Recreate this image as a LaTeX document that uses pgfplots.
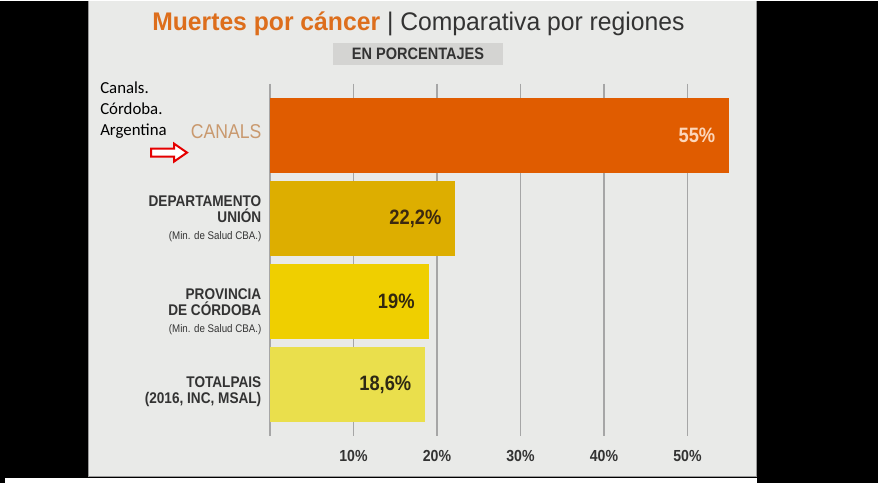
\documentclass[border=0pt]{standalone}
\usepackage{pgfplots}
\pgfplotsset{compat=1.18}
\usepackage{fontspec}
\setmainfont{Liberation Sans}[FakeStretch=0.88]
\newfontfamily\titlefont{Liberation Sans}[FakeStretch=0.97]
\newfontfamily\carlito{Carlito}
\definecolor{panel}{HTML}{E9EAE8}
\definecolor{borde}{HTML}{9A9A9A}
\definecolor{tituloor}{HTML}{DD6E1C}
\definecolor{oscuro}{HTML}{333333}
\definecolor{cA}{HTML}{E05C00}
\definecolor{cB}{HTML}{DDAE00}
\definecolor{cC}{HTML}{EFCF00}
\definecolor{cD}{HTML}{EADF4C}
\definecolor{canalstxt}{HTML}{C9996E}
\definecolor{grilla}{HTML}{A6A6A6}
\definecolor{cajagris}{HTML}{D4D4D2}
\begin{document}
\begin{tikzpicture}[x=0.75pt,y=-0.75pt]
% frame
\fill[black] (0,0) rectangle (882,482);
\fill[white] (878,0) rectangle (882,482);
\fill[white] (5,477) rectangle (757,482);
\fill[panel] (88,0) rectangle (757,476);
\draw[borde, line width=0.9pt] (88.5,0) -- (88.5,476) -- (756.5,476) -- (756.5,0);
% title
\node[anchor=base west, inner sep=0pt] at (152,30)
  {\titlefont\fontsize{19.1}{20}\selectfont\textcolor{tituloor}{\bfseries Muertes por cáncer}\ \textcolor{oscuro}{| Comparativa por regiones}};
\fill[cajagris] (333,42) rectangle (503,64);
\node[anchor=center, inner sep=0pt, text=oscuro] at (418,53.5)
  {\fontsize{12.4}{14}\selectfont\bfseries EN PORCENTAJES};
% annotation
\node[anchor=north west, align=left, inner sep=0pt, text=black,
  font=\carlito\fontsize{12.6}{15.75}\selectfont] at (100,80.5)
  {Canals.\\Córdoba.\\Argentina};
\draw[red!90!black, line width=1.5pt, fill=white, line join=miter]
  (151,148) -- (174,148) -- (174,143) -- (187,152) -- (174,161) -- (174,156) -- (151,156) -- cycle;
\begin{axis}[
  at={(202.5pt,-62.25pt)}, anchor=north west,
  x=6.2625pt, y=62.25pt, y dir=reverse,
  xmin=0, xmax=58, ymin=-0.627, ymax=3.614,
  clip=false,
  axis line style={draw=none},
  major tick length=0pt,
  xtick={0,10,20,30,40,50},
  xticklabels={,10\%,20\%,30\%,40\%,50\%},
  xmajorgrids, grid style={grilla, line width=1.1pt},
  xticklabel style={anchor=center, yshift=-15pt, text=oscuro,
     font=\fontsize{12}{14}\selectfont\bfseries},
  ytick={-0.05,1,2.12,3.085},
  yticklabels={
    {\textcolor{canalstxt}{\fontsize{15}{16}\selectfont\mdseries CANALS}},
    {DEPARTAMENTO\\UNIÓN\\[1pt]{\fontsize{8.3}{9}\selectfont\mdseries (Min. de Salud CBA.)}},
    {PROVINCIA\\DE CÓRDOBA\\[1pt]{\fontsize{8.3}{9}\selectfont\mdseries (Min. de Salud CBA.)}},
    {TOTALPAIS\\(2016, INC, MSAL)}},
  yticklabel style={anchor=east, align=right, xshift=-3pt, text=oscuro,
     font=\fontsize{11.6}{12}\selectfont\bfseries},
  xbar, bar width=56.25pt, bar shift=0pt,
  every node near coord/.append style={anchor=east, xshift=-7pt,
     font=\fontsize{15.6}{16}\selectfont\bfseries},
]
\addplot[fill=cA, draw=none, nodes near coords={55\%},
  every node near coord/.append style={text={rgb,255:red,252;green,214;blue,186}}]
  coordinates {(55,0)};
\addplot[fill=cB, draw=none, nodes near coords={22,2\%},
  every node near coord/.append style={text={rgb,255:red,60;green,40;blue,15}}]
  coordinates {(22.2,1)};
\addplot[fill=cC, draw=none, nodes near coords={19\%},
  every node near coord/.append style={text={rgb,255:red,50;green,40;blue,15}}]
  coordinates {(19,2)};
\addplot[fill=cD, draw=none, nodes near coords={18,6\%},
  every node near coord/.append style={text={rgb,255:red,45;green,40;blue,20}}]
  coordinates {(18.6,3)};
\end{axis}
\end{tikzpicture}
\end{document}
